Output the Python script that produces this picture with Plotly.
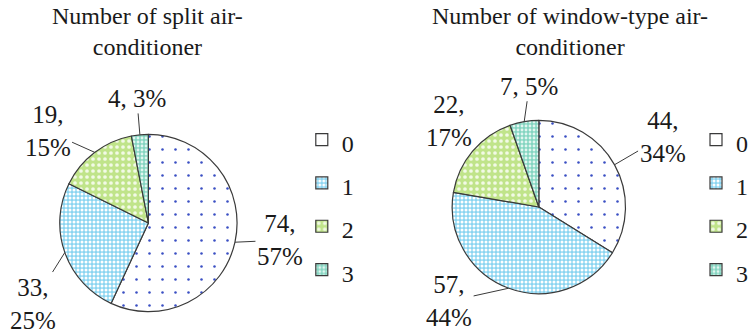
import numpy as np
import plotly.graph_objects as go

W, H = 753, 334

# ---- data ----
categories = ["0", "1", "2", "3"]
split_counts = [74, 33, 19, 4]
split_pct = [57, 25, 15, 3]
window_counts = [44, 57, 22, 7]
window_pct = [34, 44, 17, 5]
chart_titles = ["Number of split air-<br>conditioner",
                "Number of window-type air-<br>conditioner"]

# ---- styling ----
FONT = "Liberation Serif, Times New Roman, serif"
TXT = "#1a1a1a"
base_colors = ["#ffffff", "#8ad5f1", "#c0e48a", "#84d5c1"]
dot_colors = ["#3a4fc4", "#ffffff", "#f2fae6", "#e2f6f0"]
dot_sizes = [13, 4, 6, 4]
dot_solidity = [0.03, 0.45, 0.3, 0.4]
edge = "#3a3a3a"

# pie geometry in pixels: centre x, centre y (from top), radius
pies = [dict(cx=149, cy=223, r=89), dict(cx=541, cy=207, r=87)]
# label text offsets (px) from the slice edge point
label_offsets = [
    [(45, -2), (-32, 51), (-47, -21), (-3, -36)],
    [(48, -28), (-59, 13), (-24, -30), (5, -35)],
]
one_line = [False, False, False, True]
title_x = [148, 572]
legend_x = [(303, "left"), (699, "left")]
LEGEND_ROW = 31          # legend font size controlling row pitch
LEGEND_TXT = 24          # drawn size of legend digits

fig = go.Figure()
annotations = []

legend_labels = [f"<span style='font-size:{LEGEND_TXT}px'>{c}</span>" for c in categories]

for k, (counts, pct) in enumerate([(split_counts, split_pct), (window_counts, window_pct)]):
    g = pies[k]
    dom_x = [(g["cx"] - g["r"]) / W, (g["cx"] + g["r"]) / W]
    dom_y = [1 - (g["cy"] + g["r"]) / H, 1 - (g["cy"] - g["r"]) / H]
    fig.add_trace(go.Pie(
        labels=legend_labels, values=counts, sort=False, direction="clockwise",
        rotation=0, textinfo="none", textposition="none", hoverinfo="value+percent",
        domain=dict(x=dom_x, y=dom_y),
        marker=dict(colors=base_colors, line=dict(color=edge, width=1.2),
                    pattern=dict(shape=["."] * 4, fgcolor=dot_colors, bgcolor=base_colors,
                                 size=dot_sizes, solidity=dot_solidity, fillmode="replace")),
        legend="legend" if k == 0 else "legend2",
        legendgroup=f"pie{k}",
        showlegend=True,
    ))
    # value labels with leader lines
    total = float(sum(counts))
    cum = np.cumsum([0] + counts[:-1])
    for i, (c, p) in enumerate(zip(counts, pct)):
        theta = 2 * np.pi * (cum[i] + c / 2.0) / total
        tx = g["cx"] + g["r"] * np.sin(theta)
        ty = g["cy"] - g["r"] * np.cos(theta)
        txt = f"{c}, {p}%" if one_line[i] else f"{c},<br>{p}%"
        ax, ay = label_offsets[k][i]
        annotations.append(dict(
            x=tx / W, y=1 - ty / H, xref="paper", yref="paper",
            text=txt, showarrow=True, arrowhead=0, arrowwidth=1, arrowcolor=edge,
            ax=ax, ay=ay, standoff=0, startstandoff=0,
            font=dict(family=FONT, size=25, color=TXT),
        ))
    annotations.append(dict(
        x=title_x[k] / W, y=1 - 1 / H, xref="paper", yref="paper",
        xanchor="center", yanchor="top", showarrow=False, text=chart_titles[k],
        font=dict(family=FONT, size=24, color=TXT),
    ))

legend_common = dict(
    font=dict(family=FONT, size=LEGEND_ROW, color=TXT),
    bgcolor="rgba(0,0,0,0)", borderwidth=0,
    yanchor="middle", y=1 - 205 / H, xref="paper", yref="paper",
)

fig.update_layout(
    width=W, height=H,
    margin=dict(l=0, r=0, t=0, b=0),
    paper_bgcolor="white", plot_bgcolor="white",
    showlegend=True,
    annotations=annotations,
    legend=dict(x=legend_x[0][0] / W, xanchor=legend_x[0][1], **legend_common),
    legend2=dict(x=legend_x[1][0] / W, xanchor=legend_x[1][1], **legend_common),
)

fig.write_html("out.html")
